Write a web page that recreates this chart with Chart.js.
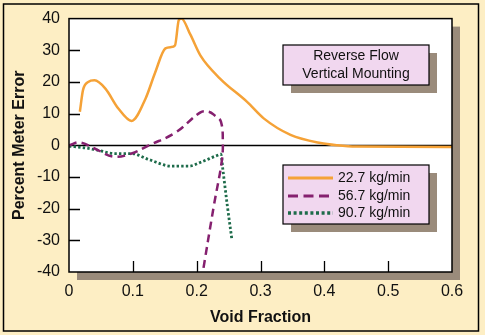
<!DOCTYPE html>
<html>
<head>
<meta charset="utf-8">
<script src="https://cdn.jsdelivr.net/npm/chart.js@4/dist/chart.umd.min.js"></script>
<style>
  html, body { margin: 0; padding: 0; background: #fdeec4; }
  #wrap { width: 485px; height: 335px; }
</style>
</head>
<body>
<div id="wrap"><canvas id="meterChart" width="485" height="335"></canvas></div>
<script>
// DATA
const seriesLabels = ["22.7 kg/min", "56.7 kg/min", "90.7 kg/min"];
const boxTitle = ["Reverse Flow", "Vertical Mounting"];

const flow22X = [0.017, 0.022, 0.03, 0.04, 0.057, 0.077, 0.098, 0.12, 0.135, 0.151, 0.16, 0.166, 0.172, 0.176, 0.19, 0.206, 0.237, 0.279, 0.305, 0.347, 0.394, 0.42, 0.45, 0.6];
const flow22Y = [10.6, 17.5, 20, 20.5, 17.9, 11.7, 7.7, 14.8, 23, 30.6, 31, 31.5, 39.5, 40, 35, 28.3, 21, 13.7, 8.5, 3.3, 0.7, 0, -0.4, -0.5];

const flow56X = [0, 0.017, 0.045, 0.07, 0.098, 0.125, 0.166, 0.206, 0.219, 0.229, 0.238, 0.241, 0.239, 0.227, 0.208];
const flow56Y = [0, 0.9, -1.5, -3.6, -2.6, 0, 3.9, 10.4, 10.6, 9.3, 7.5, 0.7, -5.5, -19, -42];

const flow90X = [0, 0.025, 0.046, 0.072, 0.098, 0.125, 0.161, 0.187, 0.208, 0.232, 0.238, 0.241, 0.248, 0.255];
const flow90Y = [-0.3, -0.8, -1.6, -2.6, -2.6, -4.5, -6.6, -6.6, -5.2, -3.2, -2.8, -7.6, -19, -29.5];

const xTickValues = [0, 0.1, 0.2, 0.3, 0.4, 0.5, 0.6];
const yTickValues = [-40, -30, -20, -10, 0, 10, 20, 30, 40];

// STYLES
const ORANGE = "#f5a237";
const PURPLE = "#85206f";
const GREEN = "#1d6b4a";
const SHADOW = "#9a8b7b";
const PINK = "#f1d7ef";
const CREAM = "#fdeec4";
const FONT = "'Liberation Sans', Arial, sans-serif";

function toPoints(xs, ys) {
  return xs.map((x, i) => ({ x: x, y: ys[i] }));
}

// box with drop shadow, used for the note and the legend
function shadowBox(ctx, x, y, w, h) {
  ctx.fillStyle = SHADOW;
  ctx.fillRect(x + 8, y + 8, w, h);
  ctx.fillStyle = PINK;
  ctx.fillRect(x, y, w, h);
  ctx.strokeStyle = "#000";
  ctx.lineWidth = 1.2;
  ctx.strokeRect(x, y, w, h);
}

const framePlugin = {
  id: "frame",
  beforeDraw(chart) {
    const ctx = chart.ctx;
    const a = chart.chartArea;
    ctx.save();
    ctx.fillStyle = CREAM;
    ctx.fillRect(0, 0, chart.width, chart.height);
    ctx.strokeStyle = "#000";
    ctx.lineWidth = 1.5;
    ctx.strokeRect(3.5, 4, 475, 327);
    // plot shadow and white panel
    ctx.fillStyle = SHADOW;
    ctx.fillRect(a.left + 8, a.top + 8, a.right - a.left, a.bottom - a.top);
    ctx.fillStyle = "#fff";
    ctx.fillRect(a.left, a.top, a.right - a.left, a.bottom - a.top);
    ctx.restore();
  },
  beforeDatasetsDraw(chart) {
    const ctx = chart.ctx;
    const a = chart.chartArea;
    const xs = chart.scales.x, ys = chart.scales.y;
    ctx.save();
    ctx.strokeStyle = "#000";
    ctx.lineWidth = 1.3;
    // zero line
    const y0 = Math.round(ys.getPixelForValue(0)) + 0.5;
    ctx.beginPath();
    ctx.moveTo(a.left, y0);
    ctx.lineTo(a.right, y0);
    ctx.stroke();
    // inner ticks
    ctx.beginPath();
    yTickValues.forEach(v => {
      if (v === 0 || v === -40 || v === 40) return;
      const py = Math.round(ys.getPixelForValue(v)) + 0.5;
      ctx.moveTo(a.left, py);
      ctx.lineTo(a.left + 11, py);
    });
    xTickValues.forEach(v => {
      if (v === 0 || v === 0.6) return;
      const px = Math.round(xs.getPixelForValue(v)) + 0.5;
      ctx.moveTo(px, a.bottom);
      ctx.lineTo(px, a.bottom - 11);
    });
    ctx.stroke();
    ctx.restore();
  },
  afterDraw(chart) {
    const ctx = chart.ctx;
    const a = chart.chartArea;
    ctx.save();
    ctx.strokeStyle = "#000";
    ctx.lineWidth = 1.5;
    ctx.strokeRect(a.left, a.top, a.right - a.left, a.bottom - a.top);

    // note box
    shadowBox(ctx, 283, 45, 146, 40);
    ctx.fillStyle = "#111";
    ctx.font = "14px " + FONT;
    ctx.textAlign = "center";
    ctx.textBaseline = "middle";
    ctx.fillText(boxTitle[0], 356, 56);
    ctx.fillText(boxTitle[1], 356, 74);

    // legend box
    shadowBox(ctx, 283, 165, 146, 59);
    const rows = [178, 196, 213];
    chart.data.datasets.forEach((ds, i) => {
      ctx.strokeStyle = ds.borderColor;
      ctx.lineWidth = i === 2 ? 3.5 : 2.8;
      ctx.setLineDash(i === 1 ? [10, 5.5] : i === 2 ? [3, 2.6] : []);
      ctx.beginPath();
      ctx.moveTo(288, rows[i]);
      ctx.lineTo(333, rows[i]);
      ctx.stroke();
      ctx.setLineDash([]);
      ctx.fillStyle = "#111";
      ctx.textAlign = "left";
      ctx.fillText(seriesLabels[i], 338, rows[i]);
    });
    ctx.restore();
  }
};

new Chart(document.getElementById("meterChart"), {
  type: "line",
  data: {
    datasets: [
      { label: seriesLabels[0], data: toPoints(flow22X, flow22Y), borderColor: ORANGE, borderWidth: 2.5, cubicInterpolationMode: "monotone" },
      { label: seriesLabels[1], data: toPoints(flow56X, flow56Y), borderColor: PURPLE, borderWidth: 2.5, borderDash: [8, 5], tension: 0.4 },
      { label: seriesLabels[2], data: toPoints(flow90X, flow90Y), borderColor: GREEN, borderWidth: 2.8, borderDash: [2.4, 2.2], cubicInterpolationMode: "monotone" }
    ]
  },
  options: {
    responsive: false,
    animation: false,
    parsing: false,
    layout: { padding: { top: 16, right: 33, left: 0, bottom: 0 } },
    elements: { point: { radius: 0 }, line: { fill: false, borderCapStyle: "butt" } },
    plugins: { legend: { display: false }, tooltip: { enabled: false } },
    scales: {
      x: {
        type: "linear",
        min: 0,
        max: 0.6,
        afterBuildTicks: s => { s.ticks = xTickValues.map(v => ({ value: v })); },
        afterFit: s => { s.height = 63; },
        grid: { display: false, drawTicks: false },
        border: { display: false },
        ticks: { padding: 10, color: "#111", font: { family: FONT, size: 16 }, callback: v => String(v) },
        title: { display: true, text: "Void Fraction", color: "#111", font: { family: FONT, size: 16, weight: "bold" }, padding: { top: 0, bottom: 8 } }
      },
      y: {
        min: -40,
        max: 40,
        afterBuildTicks: s => { s.ticks = yTickValues.map(v => ({ value: v })); },
        afterFit: s => { s.width = 69; },
        grid: { display: false, drawTicks: false },
        border: { display: false },
        ticks: { padding: 9, color: "#111", font: { family: FONT, size: 16 } },
        title: { display: true, text: "Percent Meter Error", color: "#111", font: { family: FONT, size: 16, weight: "bold" }, padding: { top: 10, bottom: 0 } }
      }
    }
  },
  plugins: [framePlugin]
});
</script>
</body>
</html>
